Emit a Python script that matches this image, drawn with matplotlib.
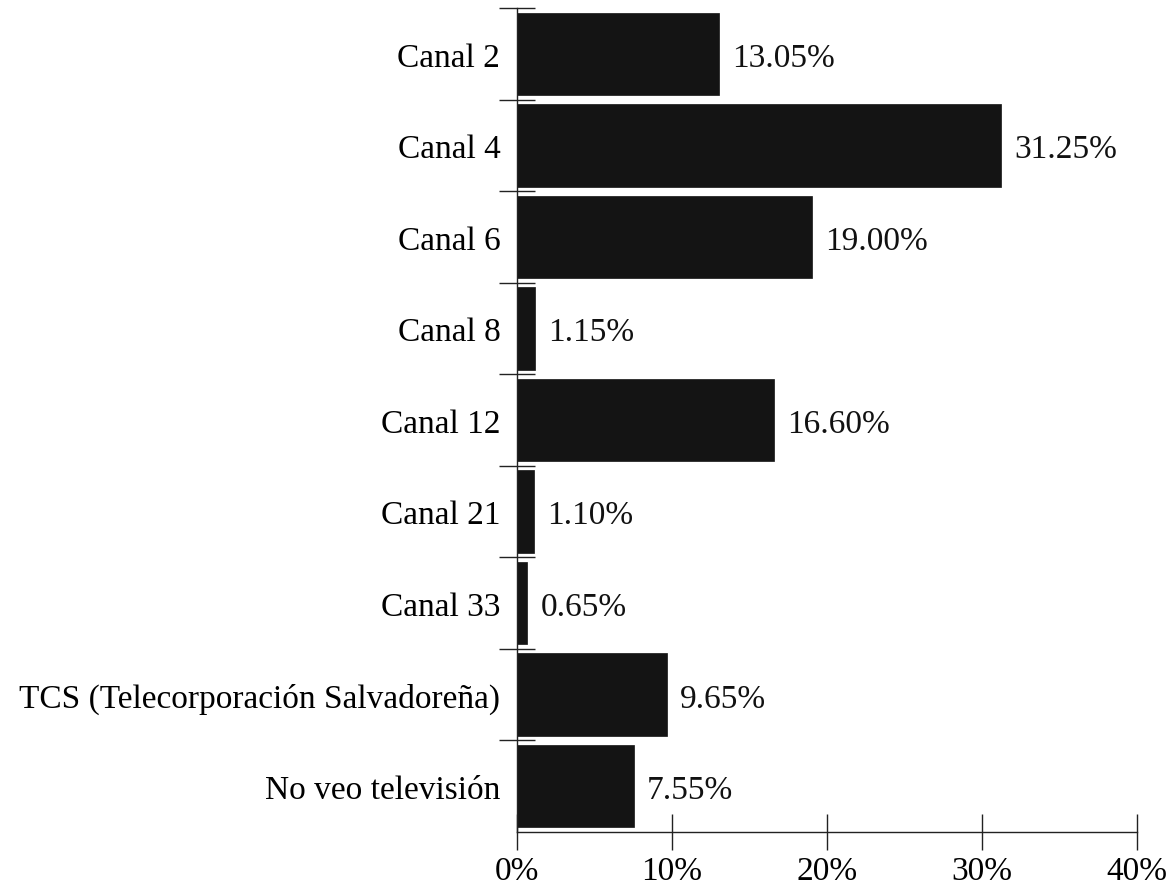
import matplotlib
matplotlib.use("Agg")
import matplotlib.pyplot as plt
from matplotlib.ticker import FixedLocator, PercentFormatter

categories = ["Canal 2", "Canal 4", "Canal 6", "Canal 8", "Canal 12", "Canal 21",
              "Canal 33", "TCS (Telecorporación Salvadoreña)", "No veo televisión"]
values = [13.05, 31.25, 19.00, 1.15, 16.60, 1.10, 0.65, 9.65, 7.55]
xticks = [0, 10, 20, 30, 40]

plt.rcParams['font.family'] = ['Liberation Serif', 'DejaVu Serif']
plt.rcParams['font.size'] = 24

fig = plt.figure(figsize=(11.69, 8.87), dpi=100)
ax = fig.add_axes([517/1169, 54/887, 620/1169, 824/887])

pos = list(range(len(categories)))
ax.barh(pos, values, height=0.9, color="#141414", edgecolor="#141414", linewidth=0.5)
for p, v in zip(pos, values):
    ax.text(v + 0.85, p + 0.04, f"{v:.2f}%", va="center", ha="left", color="#111111")

ax.set_ylim(len(categories) - 0.5, -0.5)
ax.set_xlim(0, 40)
ax.xaxis.set_major_locator(FixedLocator(xticks))
ax.xaxis.set_major_formatter(PercentFormatter(decimals=0))

ax.set_yticks(pos)
ax.set_yticklabels(categories)
ax.yaxis.set_minor_locator(FixedLocator([i - 0.5 for i in range(len(categories))]))
ax.tick_params(axis="y", which="major", length=0, pad=12)
ax.tick_params(axis="y", which="minor", direction="inout", length=26, width=1.0, color="#222222")
ax.tick_params(axis="x", which="major", direction="inout", length=26, width=1.0, pad=4, color="#222222")

for s in ["top", "right"]:
    ax.spines[s].set_visible(False)
for s in ["left", "bottom"]:
    ax.spines[s].set_linewidth(1.0)
    ax.spines[s].set_color("#222222")

fig.savefig("out.png", dpi=100)
